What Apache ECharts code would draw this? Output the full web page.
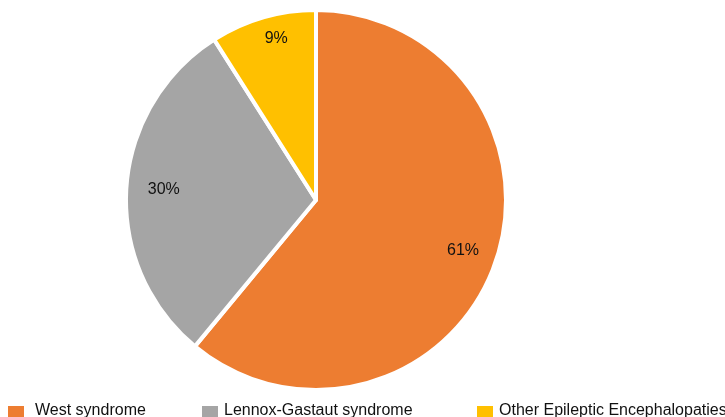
<!DOCTYPE html>
<html><head><meta charset="utf-8">
<script src="https://cdn.jsdelivr.net/npm/echarts@6/dist/echarts.min.js"></script>
<style>html,body{margin:0;padding:0;background:#fff}#c{width:725px;height:417px}</style>
</head><body><div id="c"></div>
<script>
const categories = ["West syndrome", "Lennox-Gastaut syndrome", "Other Epileptic Encephalopaties"];
const values = [61, 30, 9];
const colors = ["#ED7D31", "#A5A5A5", "#FFC000"];
const legendLefts = [8, 202, 477];
const legendTextGaps = [6, 1, 1];
const labelShift = [[-4, -4], [8, 0], [5, -7]];

const chart = echarts.init(document.getElementById('c'));
const data = categories.map((n, i) => ({ name: n, value: values[i], itemStyle: { color: colors[i] } }));
chart.setOption({
  animation: false,
  legend: categories.map((n, i) => ({
    data: [n], left: legendLefts[i], top: 400, itemWidth: 16, itemHeight: 22, itemGap: 14,
    icon: 'path://M0,-6L0.01,-6M0,0L16,0L16,16L0,16Z',
    itemStyle: { borderWidth: 0 },
    textStyle: { fontFamily: 'Liberation Sans', fontSize: 16, color: '#111', padding: [0, 0, 0, legendTextGaps[i]] }, padding: 0
  })),
  series: [{
    type: 'pie', center: [316, 200], radius: [0, 190], startAngle: 90, clockwise: true,
    data: data,
    itemStyle: { borderColor: '#fff', borderWidth: 4 },
    label: { show: false }, labelLine: { show: false }, emphasis: { disabled: true }
  }, {
    type: 'pie', center: [316, 200], radius: [125, 190], startAngle: 90, clockwise: true,
    data: data.map(d => ({ name: d.name, value: d.value, itemStyle: { color: 'rgba(0,0,0,0)' } })),
    silent: true, legendHoverLink: false,
    label: { show: true, position: 'inside', formatter: '{c}%', fontFamily: 'Liberation Sans', fontSize: 16, color: '#111' },
    labelLayout: p => ({ dx: labelShift[p.dataIndex][0], dy: labelShift[p.dataIndex][1] }),
    labelLine: { show: false }, emphasis: { disabled: true }
  }]
});
</script></body></html>
